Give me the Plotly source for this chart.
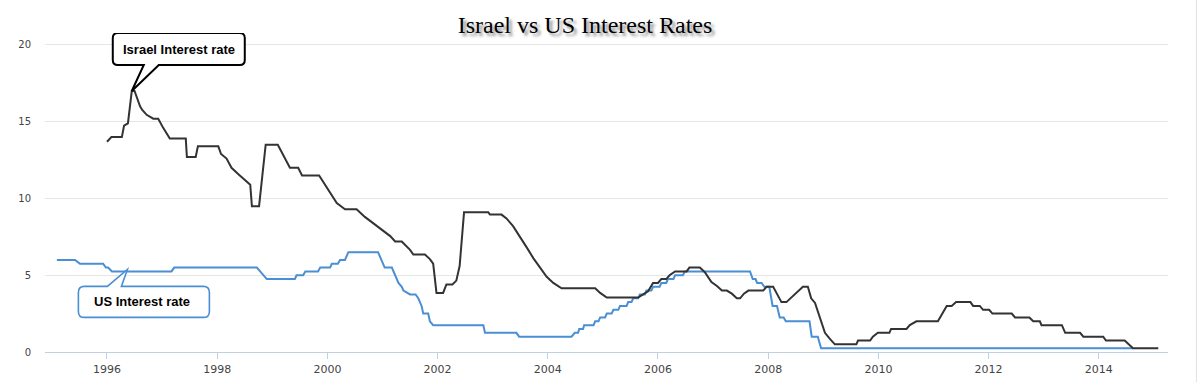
import numpy as np
import plotly.graph_objects as go

# ---------------- data (decimal years, percent) ----------------
israel_years = [
    1996.00, 1996.08, 1996.27, 1996.31, 1996.38, 1996.45, 1996.50, 1996.56, 1996.60, 1996.64,
    1996.72, 1996.84, 1996.93, 1997.02, 1997.08, 1997.14, 1997.43, 1997.45, 1997.61, 1997.65,
    1998.02, 1998.07, 1998.17, 1998.26, 1998.38, 1998.50, 1998.60, 1998.63, 1998.76, 1998.82,
    1998.88, 1999.10, 1999.17, 1999.32, 1999.47, 1999.54, 1999.85, 1999.96, 2000.05, 2000.17,
    2000.32, 2000.53, 2000.68, 2000.83, 2001.01, 2001.14, 2001.23, 2001.35, 2001.50, 2001.56,
    2001.77, 2001.86, 2001.92, 2001.98, 2002.10, 2002.16, 2002.27, 2002.34, 2002.40, 2002.48,
    2002.92, 2002.95, 2003.16, 2003.25, 2003.37, 2003.50, 2003.62, 2003.74, 2003.86, 2003.98,
    2004.10, 2004.25, 2004.86, 2004.95, 2005.07, 2005.64, 2005.73, 2005.82, 2005.91, 2006.00,
    2006.06, 2006.15, 2006.21, 2006.31, 2006.52, 2006.57, 2006.76, 2006.85, 2006.97, 2007.07,
    2007.16, 2007.25, 2007.34, 2007.43, 2007.49, 2007.56, 2007.64, 2007.91, 2007.97, 2008.09,
    2008.15, 2008.24, 2008.33, 2008.39, 2008.48, 2008.54, 2008.63, 2008.72, 2008.78, 2008.85,
    2008.91, 2008.97, 2009.03, 2009.12, 2009.21, 2009.60, 2009.63, 2009.85, 2009.90, 2009.99,
    2010.20, 2010.23, 2010.51, 2010.57, 2010.69, 2011.08, 2011.24, 2011.33, 2011.41, 2011.67,
    2011.72, 2011.84, 2011.90, 2012.01, 2012.07, 2012.42, 2012.48, 2012.74, 2012.81, 2012.93,
    2012.96, 2013.33, 2013.39, 2013.66, 2013.72, 2014.08, 2014.13, 2014.47, 2014.62, 2015.08,
]
israel_rate = [
    13.7, 14.0, 14.0, 14.75, 14.9, 17.0, 17.0, 16.4, 16.0, 15.77,
    15.45, 15.2, 15.2, 14.6, 14.2, 13.9, 13.9, 12.7, 12.7, 13.4,
    13.4, 12.9, 12.6, 12.0, 11.6, 11.2, 10.9, 9.5, 9.5, 11.5,
    13.5, 13.5, 13.0, 12.0, 12.0, 11.5, 11.5, 10.9, 10.35, 9.7,
    9.3, 9.3, 8.8, 8.4, 7.95, 7.55, 7.2, 7.2, 6.65, 6.35,
    6.35, 6.05, 5.75, 3.85, 3.85, 4.4, 4.4, 4.65, 5.6, 9.1,
    9.1, 8.95, 8.95, 8.7, 8.2, 7.5, 6.8, 6.1, 5.5, 4.9,
    4.5, 4.15, 4.15, 3.85, 3.55, 3.55, 3.75, 3.95, 4.5, 4.5,
    4.75, 4.75, 5.0, 5.25, 5.25, 5.5, 5.5, 5.2, 4.55, 4.3,
    4.0, 4.0, 3.8, 3.5, 3.5, 3.8, 4.0, 4.0, 4.25, 4.25,
    3.85, 3.25, 3.25, 3.45, 3.75, 3.95, 4.25, 4.25, 3.5, 3.2,
    2.55, 2.0, 1.25, 0.85, 0.5, 0.5, 0.75, 0.75, 1.0, 1.25,
    1.25, 1.5, 1.5, 1.75, 2.0, 2.0, 3.0, 3.0, 3.25, 3.25,
    3.0, 3.0, 2.75, 2.75, 2.5, 2.5, 2.25, 2.25, 2.0, 2.0,
    1.75, 1.75, 1.25, 1.25, 1.0, 1.0, 0.75, 0.75, 0.25, 0.25,
]

us_years = [
    1995.09, 1995.42, 1995.51, 1995.93, 1995.98, 1996.02, 1996.09, 1997.17, 1997.22, 1998.72,
    1998.78, 1998.84, 1998.90, 1999.41, 1999.44, 1999.56, 1999.60, 1999.83, 1999.87, 2000.05,
    2000.08, 2000.19, 2000.23, 2000.32, 2000.38, 2000.92, 2000.98, 2001.04, 2001.17, 2001.23,
    2001.29, 2001.35, 2001.38, 2001.50, 2001.60, 2001.65, 2001.71, 2001.74, 2001.83, 2001.86,
    2001.92, 2002.83, 2002.86, 2003.43, 2003.48, 2004.43, 2004.49, 2004.55, 2004.57, 2004.64,
    2004.66, 2004.83, 2004.86, 2004.92, 2004.95, 2005.04, 2005.07, 2005.16, 2005.19, 2005.28,
    2005.31, 2005.43, 2005.46, 2005.52, 2005.55, 2005.64, 2005.67, 2005.76, 2005.79, 2005.88,
    2005.91, 2006.03, 2006.06, 2006.15, 2006.18, 2006.28, 2006.31, 2006.45, 2006.49, 2007.67,
    2007.72, 2007.77, 2007.80, 2007.88, 2007.93, 2008.02, 2008.08, 2008.16, 2008.21, 2008.28,
    2008.32, 2008.75, 2008.79, 2008.90, 2008.96, 2014.62,
]
us_rate = [
    6.0, 6.0, 5.75, 5.75, 5.5, 5.5, 5.25, 5.25, 5.5, 5.5,
    5.25, 5.0, 4.75, 4.75, 5.0, 5.0, 5.25, 5.25, 5.5, 5.5,
    5.75, 5.75, 6.0, 6.0, 6.5, 6.5, 6.0, 5.5, 5.5, 5.0,
    4.5, 4.25, 4.0, 3.75, 3.75, 3.5, 3.0, 2.5, 2.5, 2.0,
    1.75, 1.75, 1.25, 1.25, 1.0, 1.0, 1.25, 1.25, 1.5, 1.5,
    1.75, 1.75, 2.0, 2.0, 2.25, 2.25, 2.5, 2.5, 2.75, 2.75,
    3.0, 3.0, 3.25, 3.25, 3.5, 3.5, 3.75, 3.75, 4.0, 4.0,
    4.25, 4.25, 4.5, 4.5, 4.75, 4.75, 5.0, 5.0, 5.25, 5.25,
    4.75, 4.75, 4.5, 4.5, 4.25, 4.25, 3.0, 3.0, 2.25, 2.25,
    2.0, 2.0, 1.0, 1.0, 0.25, 0.25,
]

tick_years = [1996, 1998, 2000, 2002, 2004, 2006, 2008, 2010, 2012, 2014]
tick_labels = [str(y) for y in tick_years]
y_ticks = [0, 5, 10, 15, 20]

title_text = "Israel vs US Interest Rates"
israel_label = "Israel Interest rate"
us_label = "US Interest rate"

ISRAEL_COLOR = "#333333"
US_COLOR = "#4a8fd4"

fig = go.Figure()
fig.add_trace(go.Scatter(x=us_years, y=us_rate, mode="lines", name="US",
                         line=dict(color=US_COLOR, width=2)))
fig.add_trace(go.Scatter(x=israel_years, y=israel_rate, mode="lines", name="Israel",
                         line=dict(color=ISRAEL_COLOR, width=2)))

# ---- callouts anchored to data points ----
i_peak = int(np.argmax(israel_rate))
isr_ax, isr_ay = israel_years[i_peak], israel_rate[i_peak]
us_ax = 1996.37
us_ay = float(np.interp(us_ax, us_years, us_rate))


def rounded_box_path(L, R, T, B, r, wedge):
    """Rounded box in pixel offsets (y up); wedge inserted on top or bottom edge."""
    side, a, b, tx, ty = wedge
    p = f"M {L + r},{T} "
    if side == "top":
        p += f"H {a} L {tx},{ty} L {b},{T} "
    p += f"H {R - r} Q {R},{T} {R},{T - r} V {B + r} Q {R},{B} {R - r},{B} "
    if side == "bottom":
        p += f"H {b} L {tx},{ty} L {a},{B} "
    p += f"H {L + r} Q {L},{B} {L},{B + r} V {T - r} Q {L},{T} {L + r},{T} Z"
    return p


fig.add_shape(type="path", xref="x", yref="y", xsizemode="pixel", ysizemode="pixel",
              xanchor=isr_ax, yanchor=isr_ay,
              path=rounded_box_path(-19, 113, 58, 26, 5, ("bottom", 12, 27, 0, 0)),
              line=dict(color="#000000", width=2), fillcolor="white", layer="above")
fig.add_shape(type="path", xref="x", yref="y", xsizemode="pixel", ysizemode="pixel",
              xanchor=us_ax, yanchor=us_ay,
              path=rounded_box_path(-49, 82, -15, -46, 6, ("top", -20, -6, 0, 2)),
              line=dict(color=US_COLOR, width=1.6), fillcolor="white", layer="above")

fig.add_annotation(x=isr_ax, y=isr_ay, xref="x", yref="y", text=f"<b>{israel_label}</b>",
                   showarrow=False, xshift=47, yshift=42,
                   font=dict(family="Liberation Sans, Arial", size=13, color="#000000"))
fig.add_annotation(x=us_ax, y=us_ay, xref="x", yref="y", text=f"<b>{us_label}</b>",
                   showarrow=False, xshift=15, yshift=-30,
                   font=dict(family="Liberation Sans, Arial", size=13, color="#000000"))

# right border of container
fig.add_shape(type="line", xref="paper", yref="paper", x0=1.0253, x1=1.0253, y0=-0.12, y1=1.12,
              line=dict(color="#e2e2e2", width=1), layer="below")

# plot area from y=33px (value 20.78) down to y=352px (value 0)
fig.update_layout(
    width=1199, height=382,
    margin=dict(l=45, r=31, t=33, b=30, autoexpand=False),
    paper_bgcolor="white", plot_bgcolor="white",
    showlegend=False,
    title=dict(text=title_text, x=585 / 1199, xref="container", xanchor="center",
               y=1 - 24.5 / 382, yref="container", yanchor="middle",
               font=dict(family="Liberation Serif, Times New Roman, serif", size=24, color="#000000",
                         shadow="3px 3px 3px rgba(0,0,0,0.45)")),
    xaxis=dict(range=[1994.875, 2015.256], tickvals=tick_years, ticktext=tick_labels,
               showgrid=False, zeroline=False, showline=True, linecolor="#C0D0E0", linewidth=1,
               ticks="outside", ticklen=6, tickcolor="#C0D0E0", automargin=False,
               ticklabelstandoff=1,
               tickfont=dict(family="DejaVu Sans, Verdana, sans-serif", size=11, color="#444444")),
    yaxis=dict(range=[0, 20.78], tickvals=y_ticks, showgrid=True, gridcolor="#e6e6e6",
               zeroline=False, showline=False, automargin=False,
               ticks="outside", ticklen=11, tickcolor="rgba(0,0,0,0)",
               tickfont=dict(family="DejaVu Sans, Verdana, sans-serif", size=10, color="#444444")),
)

fig.write_html("out.html", config={"displayModeBar": False},
               post_script="document.body.style.margin='0';")
